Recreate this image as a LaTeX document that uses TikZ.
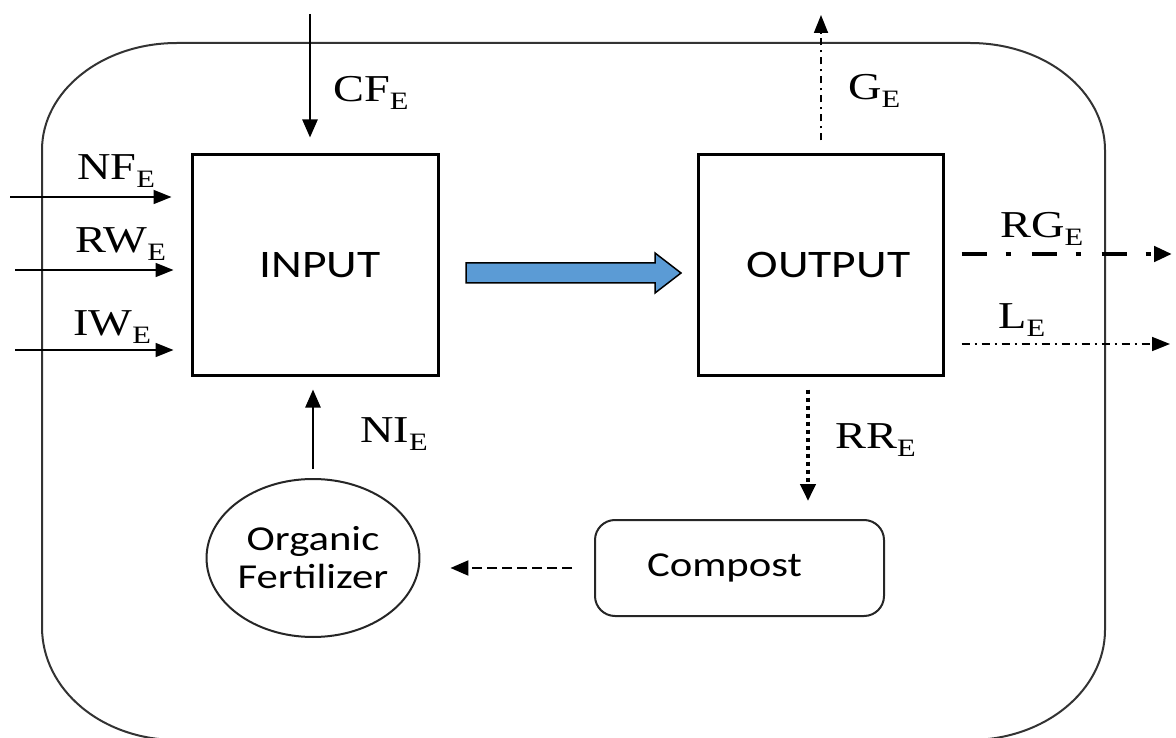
\documentclass[tikz,border=0pt]{standalone}
\usepackage{fontspec}
\setmainfont[FakeStretch=1.22]{Liberation Serif}
\setsansfont[FakeStretch=1.22]{Carlito}
\usetikzlibrary{arrows.meta,shapes.geometric}
\newcommand{\lab}[1]{#1\raisebox{-8pt}{\fontsize{25}{25}\selectfont E}}
\begin{document}
\begin{tikzpicture}[x=1pt,y=-1pt,
  box/.style={draw=black,line width=3pt,inner sep=0pt,font=\sffamily\fontsize{39}{42}\selectfont},
  soft/.style={draw=black!85,line width=2pt,inner sep=0pt,font=\sffamily\fontsize{35}{40}\selectfont,align=center},
  lbl/.style={anchor=base west,inner sep=0pt,font=\fontsize{38}{40}\selectfont},
  arr/.style={line width=2.5pt,-{Triangle[length=18pt,width=15pt]}},
  thinarr/.style={line width=1.8pt,-{Triangle[length=18pt,width=14pt]}},
]
\useasboundingbox (0,0) rectangle (1176,738);
\clip (0,0) rectangle (1176,738);
% outer boundary
\draw[line width=2pt,black!80] (177,43) -- (970,43)
  .. controls (1045,43) and (1105,91) .. (1105,150) -- (1105,630)
  .. controls (1105,690) and (1045,740) .. (970,740) -- (177,740)
  .. controls (102,740) and (42,690) .. (42,627) -- (42,150)
  .. controls (42,91) and (102,43) .. (177,43) -- cycle;

% nodes
\node[box,minimum width=246pt,minimum height=220pt] (input) at (315,265) {\hspace*{10pt}INPUT};
\node[box,minimum width=245pt,minimum height=220pt] (output) at (820.5,265) {\hspace*{16pt}OUTPUT};
\node[soft,rounded corners=20pt,minimum width=289pt,minimum height=96pt] (compost) at (739.5,568) {Compost\hspace*{30pt}};
\node[soft,ellipse,minimum width=194pt,minimum height=158pt] (ofert) at (313,558) {Organic\\[-2pt]Fertilizer};

% labels
\node[lbl] (cfl) at (333,102) {\lab{CF}};
\node[lbl] (gl) at (848,100) {\lab{G}};
\node[lbl] (rgl) at (1000,238) {\lab{RG}};
\node[lbl] (ll) at (998,328) {\lab{L}};
\node[lbl] (nfl) at (77,180) {\lab{NF}};
\node[lbl] (rwl) at (75,253) {\lab{RW}};
\node[lbl] (iwl) at (73,335) {\lab{IW}};
\node[lbl] (nil) at (360,442) {\lab{NI}};
\node[lbl] (rrl) at (835,448) {\lab{RR}};

% free ends
\coordinate (cf0) at (310,14);
\coordinate (nf0) at (10,197);
\coordinate (rw0) at (15,270);
\coordinate (iw0) at (15,350);
\coordinate (g1) at (821,15);
\coordinate (rg1) at (1172,254);
\coordinate (l1) at (1170,344);
\coordinate (rrx) at (808,0);
\coordinate (rgy) at (0,254);
\coordinate (ly) at (0,344);

% connectors
\draw[arr,shorten >=16pt] (cf0) -- (cf0 |- input.north);
\draw[thinarr,shorten >=19pt] (nf0) -- (nf0 -| input.west);
\draw[thinarr,shorten >=17pt] (rw0) -- (rw0 -| input.west);
\draw[thinarr,shorten >=17pt] (iw0) -- (iw0 -| input.west);
\draw[thinarr,dash pattern=on 7pt off 5pt on 2pt off 5pt,shorten <=13pt] (g1 |- output.north) -- (g1);
\draw[line width=4.5pt,dash pattern=on 25pt off 19pt on 5pt off 21pt,shorten <=17pt,-{Triangle[length=18pt,width=15pt]}] (rgy -| output.east) -- (rg1);
\draw[thinarr,dash pattern=on 8pt off 5pt on 2pt off 5pt,shorten <=17pt] (ly -| output.east) -- (l1);
\draw[arr,shorten <=9pt,shorten >=13pt] (ofert.north) -- (ofert.north |- input.south);
\draw[line width=4pt,dash pattern=on 4pt off 4pt,shorten <=13pt,shorten >=18pt,-{Triangle[length=17pt,width=15pt]}] (rrx |- output.south) -- (rrx |- compost.north);
\draw[arr,line width=2.2pt,dash pattern=on 10pt off 5pt,shorten <=22pt,shorten >=30pt] (compost.west) -- (compost.west -| ofert.east);

% blue block arrow from INPUT to OUTPUT
\draw[line width=1.5pt,fill={rgb,255:red,91;green,155;blue,213}]
  (466,263) -- (655,263) -- (655,253) -- (681,273) -- (655,293) -- (655,283) -- (466,283) -- cycle;
\end{tikzpicture}
\end{document}
